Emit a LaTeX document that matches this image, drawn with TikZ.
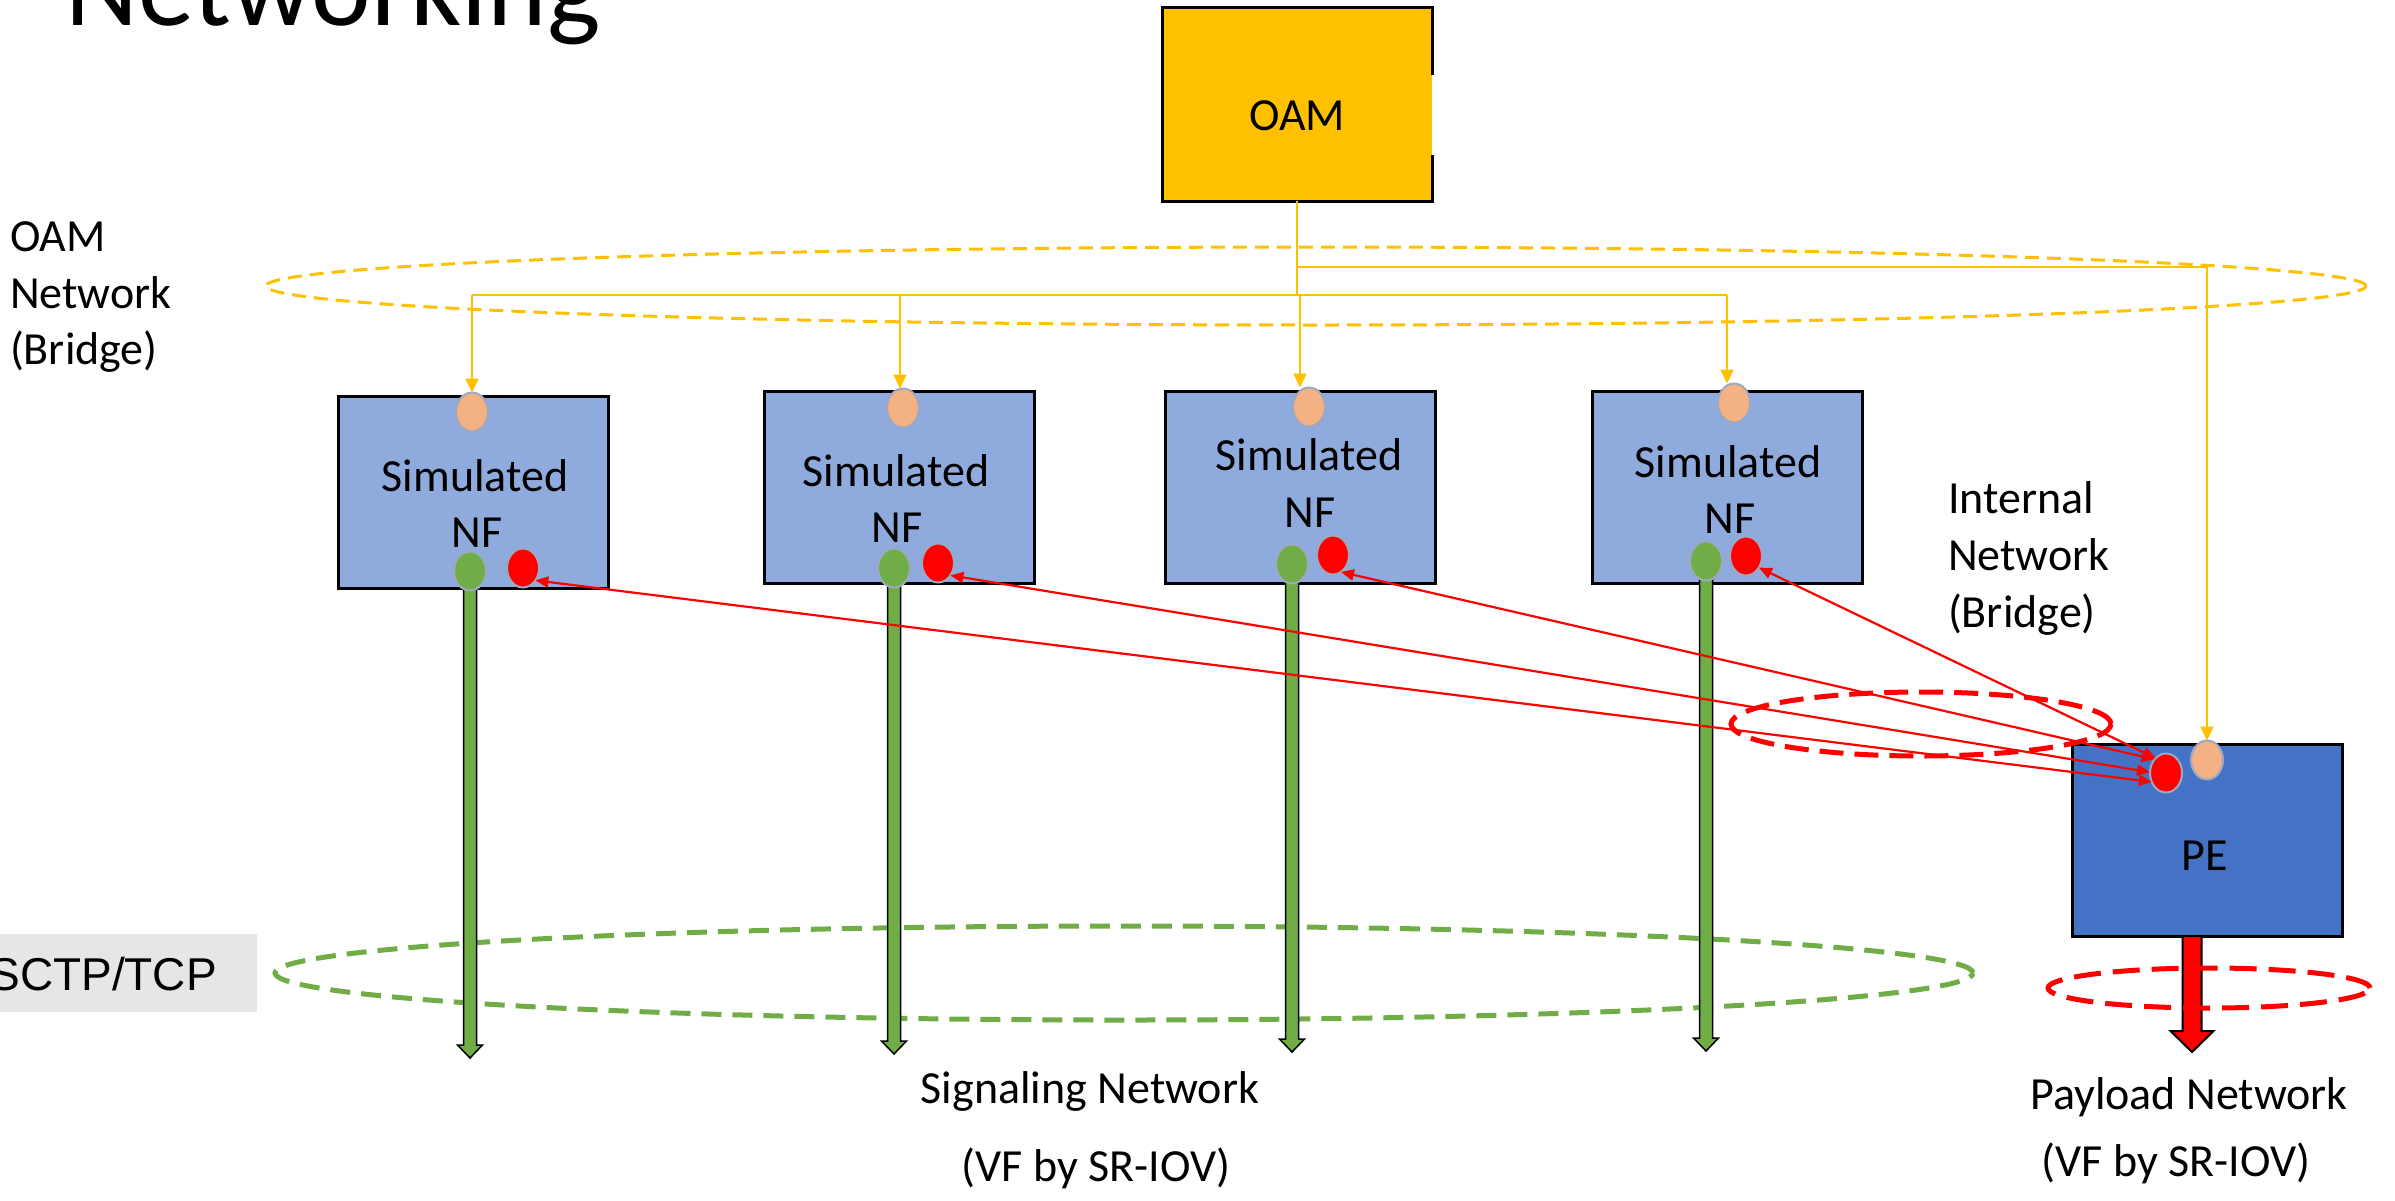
\documentclass[tikz,border=0pt]{standalone}
\usepackage{fontspec}
\setmainfont{Carlito}
\newfontfamily\arialfont{Liberation Sans}
\usetikzlibrary{arrows.meta,shapes.geometric,calc}

\definecolor{oamyellow}{HTML}{FFC000}
\definecolor{nfblue}{HTML}{8FAADC}
\definecolor{peblue}{HTML}{4472C4}
\definecolor{portorange}{HTML}{F4B183}
\definecolor{sigreen}{HTML}{70AD47}
\definecolor{intred}{HTML}{FF0000}
\definecolor{labelgray}{HTML}{E6E6E6}
\definecolor{portrim}{HTML}{9DA9C0}

\tikzset{
  % thick outlined arrows leaving the boxes downwards
  pics/sigarrow/.style={code={
    \filldraw[fill=sigreen, draw=black, line width=1.5pt, line join=miter]
      (-6.5,0) -- (-6.5,#1-13) -- (-12.5,#1-13) -- (0,#1) -- (12.5,#1-13)
      -- (6.5,#1-13) -- (6.5,0) -- cycle;
  }},
  pics/payarrow/.style={code={
    \filldraw[fill=intred, draw=black, line width=2pt, line join=miter]
      (-9.5,0) -- (-9.5,#1-21) -- (-21.5,#1-21) -- (0,#1) -- (21.5,#1-21)
      -- (9.5,#1-21) -- (9.5,0) -- cycle;
  }},
}

\begin{document}
\begin{tikzpicture}[x=1pt, y=-1pt,
  lbl/.style={font=\fontsize{46}{56}\selectfont, inner sep=0pt, outer sep=0pt},
  nfbox/.style={rectangle, draw=black, line width=3pt, fill=nfblue,
    minimum width=270pt, minimum height=192pt, inner sep=0pt, outer sep=0pt},
  port/.style={ellipse, draw=portrim, line width=2pt, minimum width=32pt,
    minimum height=39pt, inner sep=0pt, outer sep=0pt},
  oamport/.style={port, fill=portorange},
  sigport/.style={port, fill=sigreen},
  intport/.style={port, fill=intred},
  oamline/.style={draw=oamyellow, line width=2.2pt},
  oamarrow/.style={oamline, -{Triangle[length=14pt, width=13pt]}},
  intarrow/.style={draw=intred, line width=2.2pt,
    {Triangle[length=13pt, width=11pt]}-{Triangle[length=13pt, width=11pt]}},
  oamring/.style={draw=oamyellow, line width=3pt, dash pattern=on 14pt off 8pt},
  sigring/.style={draw=sigreen, line width=5pt, dash pattern=on 20pt off 11pt},
  redring/.style={draw=intred, line width=5pt, dash pattern=on 24pt off 11pt},
]
\useasboundingbox (0,0) rectangle (2395,1200);
\fill[white] (0,0) rectangle (2395,1200);
\begin{scope}
\clip (0,0) rectangle (2395,1200);

% title
\node[anchor=base west, inner sep=0pt, font=\fontsize{113}{130}\selectfont] (title) at (65,25) {Networking};

% SCTP/TCP tag
\fill[labelgray] (0,934) rectangle (257,1012);
\node[anchor=base east, inner sep=0pt, font=\arialfont\fontsize{46}{56}\selectfont] (sctp) at (217,990) {SCTP/TCP};

% network rings
\draw[oamring] (1316,286) ellipse [x radius=1050pt, y radius=39pt];
\draw[sigring] (1124,973) ellipse [x radius=849pt, y radius=47pt];

% OAM box (right edge partly open)
\node[rectangle, fill=oamyellow, minimum width=270pt, minimum height=194pt,
  inner sep=0pt, outer sep=0pt] (oam) at (1297,104) {};
\draw[line width=3pt, line join=miter]
  ($(oam.north east)+(0,68)$) -- (oam.north east) -- (oam.north west)
  -- (oam.south west) -- (oam.south east) -- ($(oam.south east)+(0,-46)$);

% network functions and PE
\node[nfbox] (nf1) at (473,492) {};
\node[nfbox] (nf2) at (899,487) {};
\node[nfbox] (nf3) at (1300,487) {};
\node[nfbox] (nf4) at (1727,487) {};
\node[nfbox, fill=peblue] (pe) at (2207,840) {};

% ports
\coordinate (nf1g) at (470,571);
\coordinate (nf2g) at (894,568);
\coordinate (nf3g) at (1292,564);
\coordinate (nf4g) at (1706,561);
\coordinate (peout) at ($(pe.south)+(-15,0)$);

% signaling and payload arrows
\pic at (nf1g) {sigarrow=487};
\pic at (nf2g) {sigarrow=486};
\pic at (nf3g) {sigarrow=488};
\pic at (nf4g) {sigarrow=490};
\pic at (peout) {payarrow=116};

\node[oamport] (nf1o) at (472,412) {};
\node[oamport] (nf2o) at (903,408) {};
\node[oamport] (nf3o) at (1309,407) {};
\node[oamport] (nf4o) at (1734,403) {};
\node[oamport] (peo) at (2207,760) {};

\node[sigport] (nf1gp) at (nf1g) {};
\node[sigport] (nf2gp) at (nf2g) {};
\node[sigport] (nf3gp) at (nf3g) {};
\node[sigport] (nf4gp) at (nf4g) {};

\node[intport] (nf1r) at (523,568) {};
\node[intport] (nf2r) at (938,563) {};
\node[intport] (nf3r) at (1333,555) {};
\node[intport] (nf4r) at (1746,556) {};
\node[intport] (per) at (2166,773) {};

% OAM distribution
\coordinate (bus) at (1297,295);
\coordinate (pebus) at (1297,267);
\coordinate (b1) at (472,295);
\coordinate (b2) at (900,295);
\coordinate (b3) at (1300,295);
\coordinate (b4) at (1727,295);
\draw[oamline] (oam.south) -- (bus);
\draw[oamline] (b1) -- (b4);
\draw[oamarrow] (pebus) -| (peo.north);
\draw[oamarrow] (b1) -- (b1 |- nf1o.north);
\draw[oamarrow] (b2) -- (b2 |- nf2o.north);
\draw[oamarrow] (b3) -- (b3 |- nf3o.north);
\draw[oamarrow] (b4) -- (b4 |- nf4o.north);

% internal network links
\draw[intarrow] (nf1r.-45) -- (per.212);
\draw[intarrow] (nf2r.-45) -- (per.177);
\draw[intarrow] (nf3r.-65) -- (per.130);
\draw[intarrow] (nf4r.-42) -- (per.125);

\draw[redring] (1921,724) ellipse [x radius=190pt, y radius=32pt];
\draw[redring, dash pattern=on 27pt off 12pt] (2209,988) ellipse [x radius=161pt, y radius=20pt];

% box texts
\node[lbl, anchor=base] (oamt) at (1297,130) {OAM};
\node[lbl, anchor=base] (nf1t) at (475,491) {Simulated};
\node[lbl, anchor=base] (nf1u) at (477,547) {NF};
\node[lbl, anchor=base] (nf2t) at (896,486) {Simulated};
\node[lbl, anchor=base] (nf2u) at (897,542) {NF};
\node[lbl, anchor=base] (nf3t) at (1309,470) {Simulated};
\node[lbl, anchor=base] (nf3u) at (1310,527) {NF};
\node[lbl, anchor=base] (nf4t) at (1728,477) {Simulated};
\node[lbl, anchor=base] (nf4u) at (1730,533) {NF};
\node[lbl, anchor=base] (pet) at (2205,870) {PE};

% network labels
\node[lbl, anchor=base west] (oamn1) at (10,251) {OAM};
\node[lbl, anchor=base west] (oamn2) at (10,308) {Network};
\node[lbl, anchor=base west] (oamn3) at (10,364) {(Bridge)};
\node[lbl, anchor=base west] (int1) at (1948,513) {Internal};
\node[lbl, anchor=base west] (int2) at (1948,570) {Network};
\node[lbl, anchor=base west] (int3) at (1948,627) {(Bridge)};
\node[lbl, anchor=base] (sig1) at (1090,1103) {Signaling Network};
\node[lbl, anchor=base] (sig2) at (1096,1181) {(VF by SR-IOV)};
\node[lbl, anchor=base] (pay1) at (2189,1109) {Payload Network};
\node[lbl, anchor=base] (pay2) at (2176,1176) {(VF by SR-IOV)};
\end{scope}
\end{tikzpicture}
\end{document}
